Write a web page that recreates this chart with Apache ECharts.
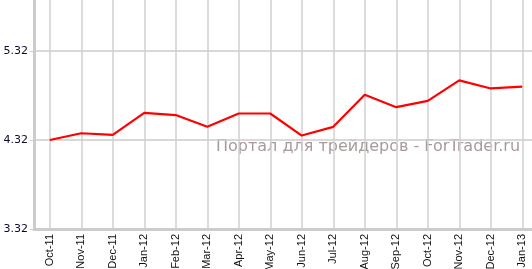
<!DOCTYPE html>
<html><head><meta charset="utf-8">
<script src="https://cdn.jsdelivr.net/npm/echarts@6/dist/echarts.min.js"></script>
<style>html,body{margin:0;padding:0;background:#fff}#c{width:532px;height:269px}</style>
</head><body><div id="c"></div>
<script>
const categories = ["Oct-11","Nov-11","Dec-11","Jan-12","Feb-12","Mar-12","Apr-12","May-12","Jun-12","Jul-12","Aug-12","Sep-12","Oct-12","Nov-12","Dec-12","Jan-13"];
const values = [4.32,4.396,4.378,4.625,4.60,4.468,4.618,4.618,4.37,4.468,4.828,4.689,4.76,4.99,4.899,4.92];
const yTicks = [3.32,4.32,5.32];
const watermark = "Портал для трейдеров - ForTrader.ru";

const chart = echarts.init(document.getElementById('c'), null, {renderer:'canvas'});
chart.setOption({
  animation:false,
  graphic:[{type:'text', left:216, top:139, z:0,
    style:{text:watermark, fill:'#a89a9a', font:'16px "DejaVu Sans"'}}],
  grid:{left:34, right:-6, top:-38, bottom:40, containLabel:false, outerBoundsMode:'none'},
  xAxis:{type:'category', data:categories, boundaryGap:true,
    axisLine:{lineStyle:{color:'#cccccc', width:3}},
    axisTick:{alignWithLabel:true, length:4, lineStyle:{color:'#cccccc', width:1}},
    axisLabel:{rotate:90, interval:0, fontSize:11, color:'#111', fontFamily:'Liberation Sans', margin:5},
    splitLine:{show:false}
  },
  yAxis:{type:'value', min:3.32, max:6.32, interval:1,
    axisLine:{show:true, lineStyle:{color:'#cccccc', width:3}},
    axisTick:{show:true, length:4, lineStyle:{color:'#cccccc'}},
    axisLabel:{fontSize:11, color:'#0a0a2a', fontFamily:'DejaVu Sans', margin:6,
      formatter:v=>yTicks.some(t=>Math.abs(t-v)<1e-6)?v.toFixed(2):''},
    splitLine:{lineStyle:{color:'#cccccc', width:1.5}}
  },
  series:[
    {type:'line', data:[], z:1, silent:true,
      markLine:{silent:true, symbol:['none','none'], label:{show:false},
        lineStyle:{color:'#d0d0d0', width:1.5, type:'solid'},
        data:categories.map(c=>({xAxis:c}))}},
    {type:'line', data:values, symbol:'none', z:5,
      lineStyle:{color:'#ff0000', width:2.2}}
  ]
});
</script></body></html>
